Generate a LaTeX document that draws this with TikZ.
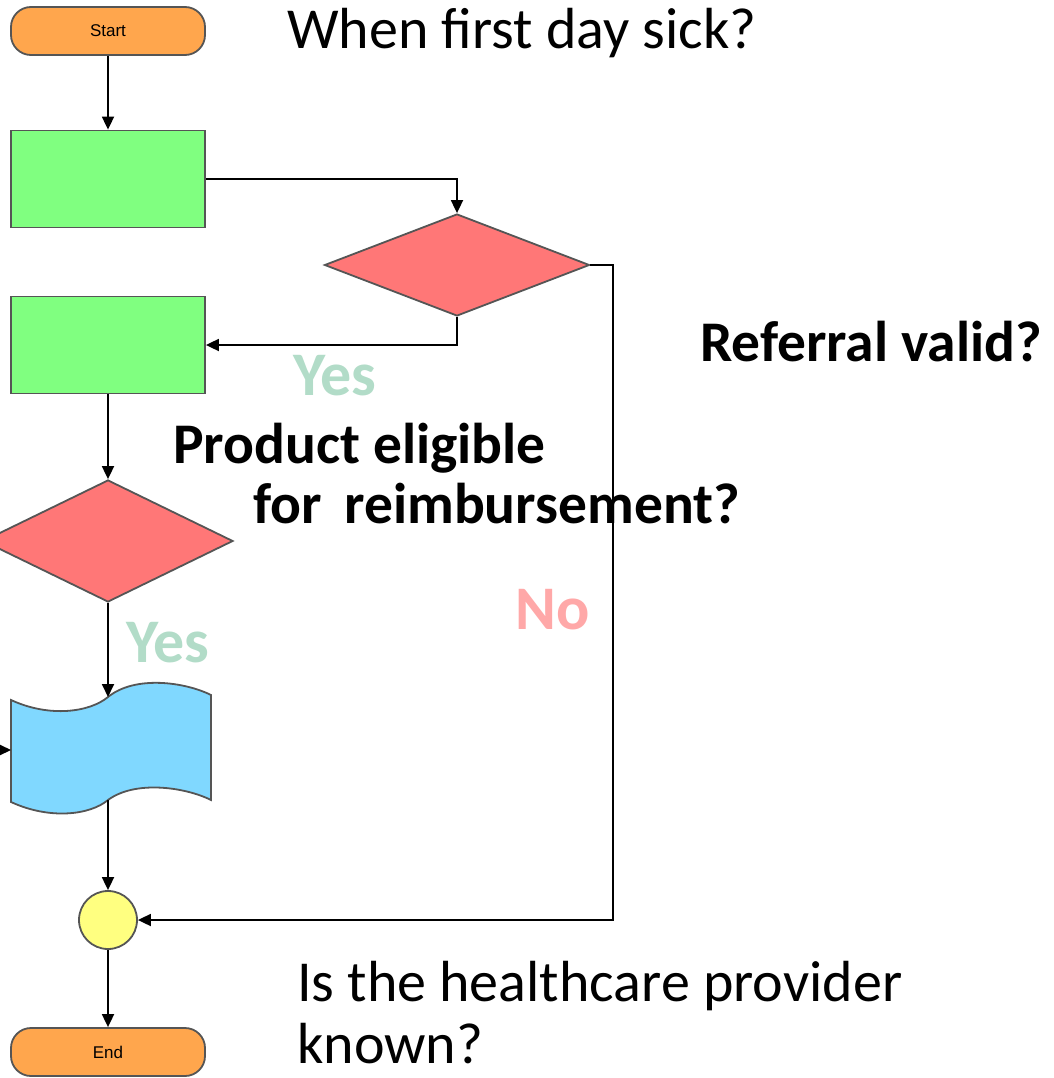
\documentclass[tikz,border=0pt]{standalone}
\usepackage{fontspec}
\setmainfont{Carlito}
\newfontfamily\smallfont{Liberation Sans}
\usetikzlibrary{shapes.geometric,arrows.meta}
\definecolor{termorange}{HTML}{FFA64D}
\definecolor{procgreen}{HTML}{80FF80}
\definecolor{decred}{HTML}{FF7777}
\definecolor{docblue}{HTML}{80D8FF}
\definecolor{joinyellow}{HTML}{FFFF80}
\definecolor{edgegray}{HTML}{555555}
\definecolor{yesgreen}{HTML}{B2DCC8}
\definecolor{nored}{HTML}{FFA8A8}
\tikzset{
  shapeborder/.style={draw=edgegray, line width=1.8pt},
  terminal/.style={shapeborder, fill=termorange, rounded corners=20pt, minimum width=194pt, minimum height=48pt, inner sep=0pt, font=\smallfont\fontsize{17}{17}\selectfont},
  procbox/.style={shapeborder, fill=procgreen, minimum width=194pt, minimum height=97pt, inner sep=0pt, rounded corners=0pt},
  decision/.style={shapeborder, fill=decred, diamond, inner sep=0pt},
  joinpt/.style={shapeborder, fill=joinyellow, circle, minimum size=58pt, inner sep=0pt},
  flow/.style={draw=black, line width=1.8pt, -{Triangle[width=12pt,length=13pt]}},
  bigtext/.style={font=\fontsize{58}{62}\selectfont, anchor=west, inner sep=0pt},
  boldtext/.style={font=\bfseries\fontsize{57.5}{60}\selectfont, anchor=west, inner sep=0pt},
  edgelabel/.style={font=\bfseries\fontsize{62}{62}\selectfont, inner sep=0pt},
}
\begin{document}
\begin{tikzpicture}[x=1pt, y=-1pt]
\useasboundingbox (0,0) rectangle (1053,1078);
% nodes
\node[terminal] (start) at (108,31) {Start};
\node[procbox] (p1) at (108,179) {};
\node[decision, minimum width=265pt, minimum height=102pt] (d1) at (457,265) {};
\node[procbox] (p2) at (108,345) {};
\node[decision, minimum width=250pt, minimum height=122pt] (d2) at (108,541) {};
% wavy document
\coordinate (doctop) at (108,697);
\coordinate (docbot) at (108,800);
\coordinate (docleft) at (11,750);
\filldraw[shapeborder, fill=docblue]
  (11,700) .. controls (50,718) and (90,712) .. (108,697)
  .. controls (135,675) and (185,682) .. (211,695)
  -- (211,800)
  .. controls (185,787) and (135,780) .. (108,800)
  .. controls (90,815) and (50,820) .. (11,802) -- cycle;
\node[joinpt] (j) at (108,920) {};
\node[terminal] (end) at (108,1052) {End};
\coordinate (leftin) at (0,750);
% connectors
\draw[flow] (start) -- (p1);
\draw[flow] (p1.east) -| (d1.north);
\draw[flow] (d1.south) |- (p2.east);
\draw[flow] (p2.south) -- (d2.north);
\draw[flow] (d2.south) -- (doctop);
\draw[flow] (leftin) -- (docleft);
\draw[flow] (docbot) -- (j.north);
\draw[flow] (j.south) -- (end.north);
\coordinate (nocorner) at (613,265);
\draw[flow] (d1.east) -- (nocorner) |- (j.east);
% labels
\node[bigtext] (t1) at (287,33) {When first day sick?};
\node[boldtext] (t2) at (700,342) {Referral valid?};
\node[boldtext, align=left] (t3) at (173,474) {Product eligible\\\hspace*{80pt}for\, reimbursement?};
\node[bigtext, align=left] (t4) at (297,1013) {Is the healthcare provider\\known?};
\node[edgelabel, text=yesgreen] (y1) at (335,376) {Yes};
\node[edgelabel, text=yesgreen] (y2) at (168,643) {Yes};
\node[edgelabel, text=nored] (n1) at (553,610) {No};
\end{tikzpicture}
\end{document}
